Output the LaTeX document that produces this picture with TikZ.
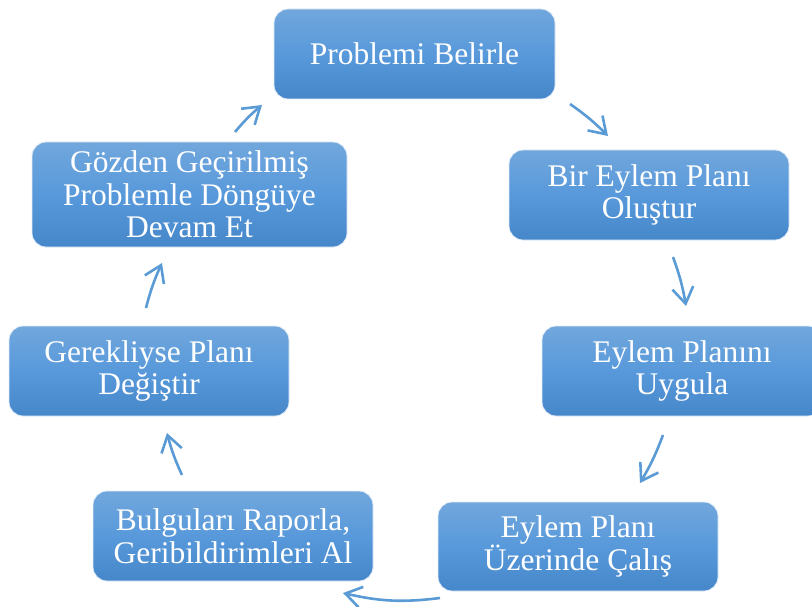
\documentclass[tikz,border=0pt]{standalone}
\usepackage{fontspec}
\setmainfont{Liberation Serif}
\usetikzlibrary{arrows.meta}
\definecolor{boxtop}{RGB}{113,167,220}
\definecolor{boxmid}{RGB}{88,153,219}
\definecolor{boxbot}{RGB}{70,135,202}
\definecolor{arrowblue}{RGB}{91,155,213}
\begin{document}
\begin{tikzpicture}[x=1pt, y=-1pt,
    cyclebox/.style={rectangle, rounded corners=14pt, draw=white!80!boxtop, line width=0.8pt,
        top color=boxtop, bottom color=boxbot, middle color=boxmid, text=white,
        minimum width=280pt, minimum height=90pt, inner sep=0pt, align=center,
        font=\fontsize{31.5}{32.5}\selectfont},
    cyclearrow/.style={draw=arrowblue, line width=2.6pt, -{Straight Barb[length=16pt, width=21pt]}}]
    % Page frame (812 x 607)
    \useasboundingbox (0,0) rectangle (812,607);

    % Steps of the cycle, clockwise from the top
    \node[cyclebox, minimum width=281pt] (belirle) at (414.5,54) {Problemi Belirle};
    \node[cyclebox] (olustur) at (649,195) {Bir Eylem Planı\\Oluştur};
    \node[cyclebox] (uygula) at (682,371) {Eylem Planını\\Uygula};
    \node[cyclebox, minimum height=89pt] (calis) at (578,546.5) {Eylem Planı\\Üzerinde Çalış};
    \node[cyclebox] (raporla) at (233,536) {Bulguları Raporla,\\Geribildirimleri Al};
    \node[cyclebox] (degistir) at (149,371) {Gerekliyse Planı\\Değiştir};
    \node[cyclebox, minimum width=315pt, minimum height=105pt] (devam) at (189.5,194.5)
        {Gözden Geçirilmiş\\Problemle Döngüye\\Devam Et};

    % Arrow ends between the steps
    \coordinate (a12s) at (570,104);  \coordinate (a12e) at (608,136);
    \coordinate (a23s) at (673,257);  \coordinate (a23e) at (686,306);
    \coordinate (a34s) at (663,435);  \coordinate (a34e) at (640,483);
    \coordinate (a45s) at (440,598);  \coordinate (a45e) at (343,593);
    \coordinate (a56s) at (182,475);  \coordinate (a56e) at (167,433);
    \coordinate (a67s) at (146,308);  \coordinate (a67e) at (162,263);
    \coordinate (a71s) at (235,132);  \coordinate (a71e) at (262,105);

    % Arrows (short arcs round the cycle)
    \foreach \s/\e in {a12s/a12e, a23s/a23e, a34s/a34e, a56s/a56e, a67s/a67e, a71s/a71e} {
        \draw[cyclearrow] (\s) to[bend left=5] (\e);
    }
    \draw[cyclearrow] (a45s) to[bend left=10] (a45e);
\end{tikzpicture}
\end{document}
